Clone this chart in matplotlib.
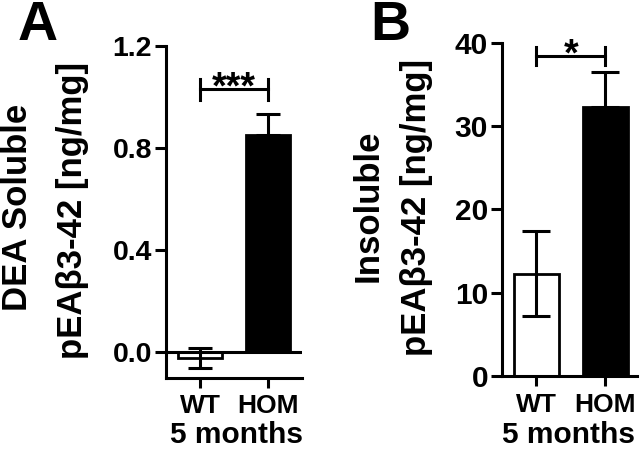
import matplotlib
matplotlib.use("Agg")
import matplotlib.pyplot as plt

plt.rcParams['font.family'] = ['Liberation Sans', 'DejaVu Sans']
plt.rcParams['font.weight'] = 'bold'

groups = ['WT', 'HOM']
bar_colors = ['white', 'black']

a_means = [-0.024, 0.851]
a_sem = [0.040, 0.083]
a_yticks = [0.0, 0.4, 0.8, 1.2]
a_yticklabels = ['0.0', '0.4', '0.8', '1.2']
a_sig = '***'
a_bracket = 1.03

b_means = [12.3, 32.3]
b_sem = [5.1, 4.2]
b_yticks = [0, 10, 20, 30, 40]
b_yticklabels = ['0', '10', '20', '30', '40']
b_sig = '*'
b_bracket = 38.4

W, H = 640, 450
fig = plt.figure(figsize=(6.4, 4.5), dpi=100)


def px_axes(x0, x1, ytop, ybot):
    return fig.add_axes([x0 / W, 1 - ybot / H, (x1 - x0) / W, (ybot - ytop) / H])


LW = 2.2


def panel(ax, means, sem, yticks, yticklabels, ylim, xlim, sig, bracket_y, tick_h, capsize, ytick_fs, zero_line):
    x = list(range(len(groups)))
    ax.bar(x, means, width=0.65, color=bar_colors, edgecolor='black', linewidth=2, zorder=2, clip_on=False)
    lower = [s if c == 'white' else 0 for s, c in zip(sem, bar_colors)]
    ax.errorbar(x, means, yerr=[lower, sem], fmt='none', ecolor='black', elinewidth=2.2,
                capsize=capsize, capthick=2.2, zorder=3, clip_on=False)
    if zero_line:
        ax.axhline(0, color='black', linewidth=LW, zorder=4)
    ax.set_xlim(*xlim)
    ax.set_ylim(*ylim)
    ax.set_yticks(yticks)
    ax.set_yticklabels(yticklabels, fontsize=ytick_fs, fontweight='bold')
    ax.set_xticks(x)
    ax.set_xticklabels(groups, fontsize=19, fontweight='bold')
    for s in ['top', 'right']:
        ax.spines[s].set_visible(False)
    for s in ['left', 'bottom']:
        ax.spines[s].set_linewidth(LW)
    ax.tick_params(axis='y', length=8, width=LW, pad=2)
    ax.tick_params(axis='x', length=7.2, width=LW, pad=5)
    # significance bracket
    ax.plot([x[0], x[1]], [bracket_y, bracket_y], color='black', lw=LW, clip_on=False, zorder=5)
    for xi in x:
        ax.plot([xi, xi], [bracket_y - tick_h, bracket_y + tick_h], color='black', lw=LW,
                clip_on=False, zorder=5)
    ax.annotate(sig, xy=(0.5 * (x[0] + x[1]), bracket_y), xytext=(0, -6.5),
                textcoords='offset points', ha='center', va='baseline',
                fontsize=27, fontweight='bold', annotation_clip=False)


axA = px_axes(166, 302, 46, 377.5)
panel(axA, a_means, a_sem, a_yticks, a_yticklabels, (-0.1, 1.2), (-0.5, 1.5), a_sig, a_bracket,
      0.04, 8.5, 20.5, True)

axB = px_axes(502, 636.5, 43, 376)
panel(axB, b_means, b_sem, b_yticks, b_yticklabels, (0, 40), (-0.5, 1.45), b_sig, b_bracket,
      1.1, 10, 21.5, False)


def ftext(xp, yp, s, **kw):
    fig.text(xp / W, 1 - yp / H, s, **kw)


# y labels (two lines each)
ylab_kw = dict(rotation=90, rotation_mode='anchor', ha='center', va='baseline',
               fontsize=25, fontweight='bold')
ftext(27, 207, 'DEA Soluble', **ylab_kw)
ftext(82, 210, 'pEAβ3-42 [ng/mg]', **ylab_kw)
ftext(378, 206, 'Insoluble', **ylab_kw)
ftext(426, 207, 'pEAβ3-42 [ng/mg]', **ylab_kw)

# x group label
ftext(236, 443, '5 months', ha='center', va='baseline', fontsize=21.5, fontweight='bold')
ftext(568, 443, '5 months', ha='center', va='baseline', fontsize=21.5, fontweight='bold')

# panel letters
ftext(18, 40, 'A', ha='left', va='baseline', fontsize=40, fontweight='bold')
ftext(370, 40, 'B', ha='left', va='baseline', fontsize=40, fontweight='bold')

fig.savefig('out.png', dpi=100)
